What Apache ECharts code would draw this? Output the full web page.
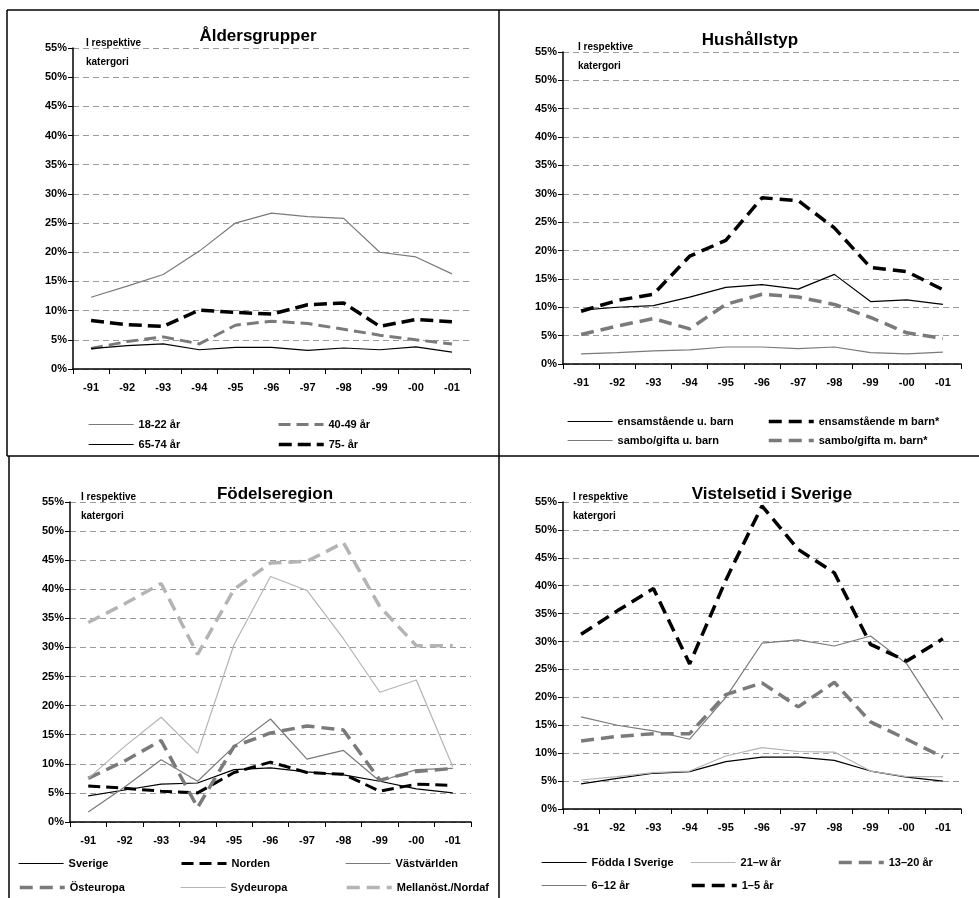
<!DOCTYPE html>
<html><head><meta charset="utf-8">
<script src="https://cdn.jsdelivr.net/npm/echarts@6/dist/echarts.min.js"></script>
<style>html,body{margin:0;padding:0;background:#fff}#c{width:979px;height:898px}</style>
</head><body><div id="c"></div>
<script>
const years = ['-91','-92','-93','-94','-95','-96','-97','-98','-99','-00','-01'];
const yTicks = [0,5,10,15,20,25,30,35,40,45,50,55];

// Åldersgrupper
const age18_22 = [12.3,14.2,16.2,20.2,25.0,26.7,26.1,25.8,20.0,19.2,16.3];
const age40_49 = [3.5,4.7,5.5,4.3,7.5,8.2,7.8,6.8,5.8,5.0,4.3];
const age65_74 = [3.5,4.0,4.3,3.3,3.7,3.7,3.2,3.6,3.3,3.8,2.9];
const age75 = [8.3,7.6,7.3,10.1,9.7,9.4,11.0,11.3,7.3,8.5,8.1];

// Hushållstyp
const ensUBarn = [9.5,10.0,10.3,11.8,13.5,14.0,13.2,15.8,11.0,11.3,10.5];
const ensMBarn = [9.3,11.2,12.3,19.0,21.8,29.3,28.8,24.0,17.0,16.3,13.1];
const samboUBarn = [1.8,2.0,2.3,2.5,3.0,3.0,2.7,3.0,2.0,1.8,2.1];
const samboMBarn = [5.2,6.7,8.0,6.2,10.5,12.3,11.8,10.5,8.2,5.5,4.5];

// Födelseregion
const sverige = [4.5,5.5,6.5,6.7,9.0,9.3,8.6,8.1,7.0,5.7,5.0];
const norden = [6.2,5.8,5.3,5.0,8.5,10.3,8.5,8.2,5.3,6.5,6.3];
const vastvarlden = [1.7,6.0,10.7,7.0,13.0,17.7,10.8,12.3,7.0,9.0,9.2];
const osteuropa = [7.5,10.5,14.0,2.5,13.0,15.3,16.5,15.8,7.2,8.7,9.2];
const sydeuropa = [7.5,13.0,18.0,11.8,30.5,42.2,39.8,31.5,22.3,24.4,9.5];
const mellanost = [34.3,37.5,41.0,28.8,40.0,44.5,44.8,48.0,37.0,30.3,30.3];

// Vistelsetid i Sverige
const foddaSverige = [4.5,5.5,6.4,6.7,8.5,9.3,9.3,8.7,6.8,5.7,5.0];
const v21w = [5.2,5.8,6.5,6.8,9.5,11.0,10.3,10.2,6.8,5.8,5.8];
const v13_20 = [12.2,13.0,13.5,13.5,20.5,22.6,18.3,22.7,15.6,12.5,9.3];
const v6_12 = [16.5,15.0,14.0,12.5,20.0,29.7,30.3,29.2,31.0,26.0,16.0];
const v1_5 = [31.3,35.5,39.5,26.0,41.0,54.3,46.5,42.3,29.5,26.5,30.5];

const titles = ['Åldersgrupper','Hushållstyp','Födelseregion','Vistelsetid i Sverige'];
const note = 'I respektive\nkatergori';

const FONT = '"Liberation Sans", Arial, sans-serif';
const BLACK = '#000', GRAY = '#7a7a7a', LGRAY = '#b4b4b4';

const grids = [
  {left:73, top:48, width:397, height:321},
  {left:563, top:52, width:398, height:312},
  {left:70, top:502, width:401, height:320},
  {left:563, top:502, width:398, height:307}
];

function mk(name, data, gi, color, width, dashed) {
  return {
    name, type:'line', data, xAxisIndex:gi, yAxisIndex:gi,
    showSymbol:false, symbol:'none', animation:false,
    lineStyle:{color, width, type: dashed ? dashed : 'solid'},
    itemStyle:{color}
  };
}
const series = [
  mk('18-22 år', age18_22, 0, GRAY, 1.2),
  mk('40-49 år', age40_49, 0, GRAY, 3, [12,6]),
  mk('65-74 år', age65_74, 0, BLACK, 1.2),
  mk('75- år', age75, 0, BLACK, 3.5, [13,6]),

  mk('ensamstående u. barn', ensUBarn, 1, BLACK, 1.2),
  mk('ensamstående m barn*', ensMBarn, 1, BLACK, 3.5, [13,7]),
  mk('sambo/gifta u. barn', samboUBarn, 1, GRAY, 1.2),
  mk('sambo/gifta m. barn*', samboMBarn, 1, GRAY, 3.5, [13,7]),

  mk('Sverige', sverige, 2, BLACK, 1.2),
  mk('Norden', norden, 2, BLACK, 3, [12,6]),
  mk('Västvärlden', vastvarlden, 2, GRAY, 1.2),
  mk('Östeuropa', osteuropa, 2, GRAY, 3.5, [13,7]),
  mk('Sydeuropa', sydeuropa, 2, LGRAY, 1.2),
  mk('Mellanöst./Nordaf', mellanost, 2, LGRAY, 3.5, [13,7]),

  mk('Födda I Sverige', foddaSverige, 3, BLACK, 1.2),
  mk('21–w år', v21w, 3, LGRAY, 1.2),
  mk('13–20 år', v13_20, 3, GRAY, 3.5, [13,7]),
  mk('6–12 år', v6_12, 3, GRAY, 1.2),
  mk('1–5 år', v1_5, 3, BLACK, 3.5, [13,7])
];

const xAxis = grids.map((g,i)=>({
  type:'category', gridIndex:i, data:years, boundaryGap:true,
  axisLine:{lineStyle:{color:'#000', width:1.5}},
  axisTick:{show:true, length:5, lineStyle:{color:'#000'}},
  axisLabel:{color:'#000', fontFamily:FONT, fontSize:11, fontWeight:'bold', margin:13}
}));
const yAxis = grids.map((g,i)=>({
  type:'value', gridIndex:i, min:0, max:55, interval:5,
  axisLine:{show:true, lineStyle:{color:'#000', width:1.5}},
  axisTick:{show:true, length:5, lineStyle:{color:'#000'}},
  axisLabel:{color:'#000', fontFamily:FONT, fontSize:11, fontWeight:'bold', formatter:v=>v+'%', margin:6},
  splitLine:{show:true, lineStyle:{color:'#9a9a9a', type:[6,4], width:1}}
}));

// legend positions (per item)
const legPos = [
  ['18-22 år', 88, 419], ['40-49 år', 277, 419], ['65-74 år', 88, 439], ['75- år', 277, 439],
  ['ensamstående u. barn', 567, 416], ['ensamstående m barn*', 767, 416],
  ['sambo/gifta u. barn', 567, 435], ['sambo/gifta m. barn*', 767, 435],
  ['Sverige', 18, 858], ['Norden', 180, 858], ['Västvärlden', 345, 858],
  ['Östeuropa', 18, 882], ['Sydeuropa', 180, 882], ['Mellanöst./Nordaf', 345, 882],
  ['Födda I Sverige', 541, 857], ['21–w år', 690, 857], ['13–20 år', 837, 857],
  ['6–12 år', 541, 880], ['1–5 år', 690, 880]
];
const legend = legPos.map(([n,x,y])=>{
  const s = series.find(q=>q.name===n);
  return {
    data:[n], left:x, top:y, itemWidth:45, itemHeight:10, itemGap:2, padding:0,
    selectedMode:false,
    itemStyle:{opacity:0, borderWidth:0},
    lineStyle:{width:s.lineStyle.width, type:s.lineStyle.type, color:s.lineStyle.color},
    textStyle:{color:'#000', fontFamily:FONT, fontSize:11, fontWeight:'bold', padding:[0,0,0,0]}
  };
});

const titlePos = [[253,23],[745,27],[270,481],[767,481]];
const title = titles.map((t,i)=>({
  text:t, left:titlePos[i][0], top:titlePos[i][1], textAlign:'center',
  textStyle:{fontFamily:FONT, fontSize:17, fontWeight:'bold', color:'#000'}
}));

const notePos = [[86,34],[578,38],[81,488],[573,488]];
const graphic = [
  {type:'line', shape:{x1:7,y1:10,x2:979,y2:10}, style:{stroke:'#000', lineWidth:1.5}},
  {type:'line', shape:{x1:7,y1:10,x2:7,y2:456}, style:{stroke:'#000', lineWidth:1.5}},
  {type:'line', shape:{x1:9,y1:456,x2:9,y2:898}, style:{stroke:'#000', lineWidth:1.5}},
  {type:'line', shape:{x1:499,y1:10,x2:499,y2:898}, style:{stroke:'#000', lineWidth:1.5}},
  {type:'line', shape:{x1:7,y1:456,x2:979,y2:456}, style:{stroke:'#000', lineWidth:1.5}}
].concat(notePos.map(([x,y])=>({
  type:'text', left:x, top:y, style:{text:note, fill:'#000', font:'bold 10px '+FONT, lineHeight:19}
})));

const chart = echarts.init(document.getElementById('c'), null, {renderer:'canvas'});
chart.setOption({
  animation:false, backgroundColor:'#fff',
  title, legend, grid:grids, xAxis, yAxis, series, graphic
});
</script></body></html>
